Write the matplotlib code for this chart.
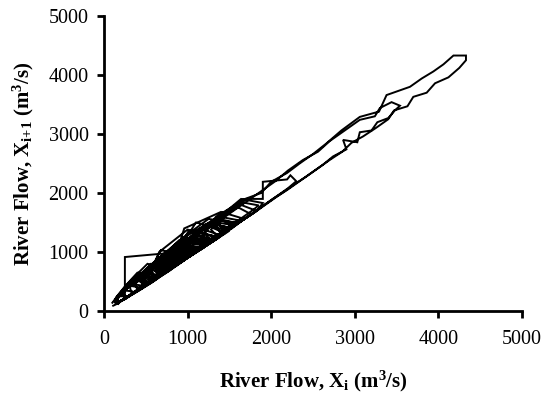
import numpy as np
import matplotlib
matplotlib.use("Agg")
import matplotlib.pyplot as plt

plt.rcParams['font.family'] = ['Liberation Serif', 'DejaVu Serif']
plt.rcParams['mathtext.fontset'] = 'custom'
plt.rcParams['mathtext.rm'] = 'Liberation Serif:bold'
plt.rcParams['mathtext.it'] = 'Liberation Serif:bold'
plt.rcParams['mathtext.bf'] = 'Liberation Serif:bold'

# River flow time series (m3/s), hydrological cycles in chronological order
cycle_1 = [100, 140, 210, 330, 480, 600, 560, 700, 900, 820, 760, 950, 1250, 1180, 1090, 1000,
           1150, 1400, 1280, 1160, 1050, 950, 870, 1080, 1300, 1190, 1080, 980, 890, 810, 740,
           670, 610, 550, 500, 450, 400, 350, 310, 270, 230, 200, 170]
cycle_2 = [150, 220, 340, 520, 480, 430, 560, 800, 740, 680, 640, 760, 1000, 930, 870, 1010, 1350,
           1260, 1170, 1090, 1020, 950, 890, 830, 900, 1100, 1040, 970, 900, 840, 780, 720, 660,
           600, 550, 500, 450, 400, 350, 310, 270, 230, 200, 170]
cycle_3 = [150, 200, 290, 420, 600, 820, 1060, 1000, 1200, 1450, 1650, 1880, 2000, 2190, 2340, 2500,
           2660, 2840, 3060, 3290, 3380, 3660, 3800, 3940, 4060, 4180, 4330, 4330, 4250, 4120, 3960,
           3860, 3700, 3630, 3470, 3400, 3250, 3100, 2960, 2850, 2700, 2560, 2420, 2280, 2150, 2020,
           1900, 1780, 1650, 1530, 1400, 1290, 1180, 1060, 960, 860, 760, 660, 570, 480, 400, 330,
           270, 220, 180, 150]
cycle_4 = [160, 230, 330, 470, 650, 610, 570, 690, 880, 1080, 1010, 950, 890, 1040, 1260, 1200, 1130,
           1060, 990, 930, 870, 940, 1120, 1360, 1230, 1110, 1000, 900, 810, 730, 660, 600, 540,
           480, 430, 380, 330, 290, 250, 210, 180]
cycle_5 = [150, 190, 260, 380, 560, 760, 700, 650, 760, 960, 900, 840, 790, 900, 1100, 1300, 1480,
           1420, 1350, 1280, 1380, 1560, 1500, 1430, 1360, 1290, 1220, 1150, 1080, 1020, 960, 900,
           850, 800, 750, 700, 650, 600, 550, 500, 450, 400, 350, 300, 260, 220, 190, 160]
cycle_6 = [150, 190, 250, 250, 915, 1000, 1060, 1120, 1200, 1150, 1080, 990, 900, 820, 740, 660,
           590, 520, 450, 390, 330, 280, 230, 190, 160]
cycle_7 = [140, 180, 240, 340, 470, 640, 600, 560, 520, 620, 780, 980, 920, 860, 810, 760, 860, 1040,
           1240, 1180, 1110, 1050, 990, 940, 1000, 1160, 1380, 1540, 1480, 1410, 1340, 1270, 1200,
           1340, 1600, 1820, 1700, 1580, 1470, 1370, 1270, 1180, 1090, 1000, 920, 840, 770, 700,
           640, 580, 520, 470, 420, 370, 330, 290, 250, 210, 180, 150]
cycle_8 = [140, 200, 290, 420, 600, 560, 520, 640, 820, 1050, 990, 930, 1080, 1320, 1450, 1600, 1750,
           1900, 2050, 2200, 2380, 2560, 2700, 2880, 3060, 3240, 3300, 3440, 3540, 3480, 3400, 3270,
           3200, 3060, 3030, 2860, 2900, 2740, 2620, 2480, 2340, 2200, 2060, 1930, 1800, 1670, 1550,
           1430, 1310, 1200, 1090, 980, 880, 780, 690, 600, 510, 430, 360, 300, 250, 200, 170]
cycle_9 = [150, 210, 300, 430, 400, 370, 460, 620, 820, 770, 720, 680, 790, 960, 1180, 1110, 1050,
           990, 930, 870, 820, 770, 820, 940, 1110, 1060, 1000, 940, 880, 830, 780, 730, 680, 630,
           580, 530, 480, 430, 380, 340, 300, 260, 220, 190, 160]
cycle_10 = [150, 200, 280, 400, 560, 740, 700, 660, 800, 1000, 1220, 1160, 1100, 1260, 1480, 1420,
            1360, 1530, 1700, 1900, 1900, 2190, 2230, 2300, 2200, 2080, 1960, 1840, 1720, 1600, 1480,
            1370, 1260, 1150, 1050, 950, 850, 760, 670, 590, 510, 440, 370, 310, 260, 210, 170]
cycle_11 = [140, 200, 300, 450, 640, 860, 820, 780, 740, 840, 1000, 950, 900, 850, 800, 760, 720, 680,
            640, 600, 560, 520, 480, 440, 400, 360, 320, 280, 240, 210, 180, 150]
cycle_12 = [130, 170, 240, 350, 330, 310, 400, 540, 500, 470, 560, 700, 660, 620, 580, 540, 500, 460,
            420, 380, 340, 300, 260, 230, 200, 170, 140]
cycle_13 = [140, 190, 270, 390, 550, 750, 980, 920, 870, 820, 940, 1140, 1380, 1600, 1540, 1470,
            1400, 1330, 1420, 1600, 1760, 1640, 1520, 1410, 1310, 1210, 1120, 1030, 950, 870, 800,
            730, 670, 610, 550, 500, 450, 400, 350, 300, 260, 220, 180, 150]
cycle_14 = [150, 220, 320, 460, 430, 400, 370, 450, 580, 740, 700, 660, 620, 700, 860, 1060, 1000,
            950, 900, 850, 900, 1020, 1200, 1150, 1090, 1030, 970, 910, 860, 810, 760, 710, 660, 610,
            560, 510, 460, 410, 360, 320, 280, 240, 200, 170]
cycle_15 = [120, 170, 250, 370, 540, 760, 1020, 960, 880, 800, 900, 1080, 1300, 1220, 1120, 1030, 950,
            880, 820, 900, 1060, 1240, 1160, 1070, 990, 920, 850, 790, 730, 670, 610, 550, 490, 430,
            380, 330, 290, 250, 210, 180, 150]
cycle_16 = [150, 210, 300, 420, 580, 520, 470, 430, 520, 680, 900, 1200, 1120, 1040, 960, 900, 960,
            1100, 1300, 1500, 1380, 1260, 1150, 1050, 960, 880, 800, 730, 660, 600, 540, 480, 430,
            380, 330, 290, 250, 210, 180, 150]
cycle_17 = [140, 190, 280, 410, 600, 560, 520, 480, 540, 660, 840, 780, 700, 640, 720, 880, 1100, 1020,
            940, 870, 810, 760, 710, 660, 610, 570, 530, 490, 450, 410, 370, 330, 290, 250, 220, 190,
            160]
cycle_18 = [160, 230, 340, 500, 700, 950, 1250, 1560, 1500, 1380, 1270, 1180, 1260, 1420, 1640, 1900,
            1830, 1700, 1580, 1480, 1390, 1300, 1210, 1130, 1050, 980, 910, 850, 790, 730, 670, 610,
            560, 510, 460, 410, 360, 320, 280, 240, 200, 170]
cycle_19 = [150, 200, 280, 250, 230, 300, 420, 590, 800, 740, 690, 650, 610, 680, 820, 1000, 1240,
            1170, 1080, 990, 910, 840, 780, 720, 670, 620, 570, 520, 470, 420, 370, 320, 280, 240,
            200, 170]
cycle_20 = [140, 180, 250, 350, 490, 680, 900, 1150, 1080, 1000, 920, 850, 930, 1060, 1230, 1450, 1320,
            1200, 1090, 990, 900, 820, 750, 680, 620, 560, 500, 450, 400, 350, 310, 270, 230, 190,
            160, 140]
cycle_21 = [130, 200, 320, 520, 800, 700, 620, 560, 660, 1000, 1380, 1250, 1130, 1020, 920, 1100, 1500,
            1360, 1230, 1110, 1000, 900, 810, 730, 660, 590, 530, 470, 420, 370, 320, 280, 240, 200,
            170]
cycle_22 = [150, 240, 400, 650, 600, 550, 680, 1030, 940, 860, 960, 1400, 1680, 1560, 1450, 1330,
            1220, 1120, 1020, 930, 850, 770, 700, 630, 570, 510, 450, 400, 350, 300, 260, 220, 180,
            150]
cycle_23 = [150, 200, 280, 400, 560, 760, 1000, 1280, 1520, 1460, 1400, 1340, 1440, 1620, 1850, 1790,
            1720, 1650, 1580, 1510, 1440, 1370, 1300, 1240, 1180, 1120, 1060, 1000, 940, 880, 820,
            760, 700, 640, 580, 530, 480, 430, 380, 330, 290, 250, 210, 180, 140, 110, 90]

flow = np.concatenate([cycle_1, cycle_2, cycle_3, cycle_4, cycle_5, cycle_6, cycle_7, cycle_8,
                       cycle_9, cycle_10, cycle_11, cycle_12, cycle_13, cycle_14, cycle_15,
                       cycle_16, cycle_17, cycle_18, cycle_19, cycle_20, cycle_21, cycle_22,
                       cycle_23])

x_ticks = [0, 1000, 2000, 3000, 4000, 5000]
y_ticks = [0, 1000, 2000, 3000, 4000, 5000]

fig = plt.figure(figsize=(5.43, 3.96), dpi=100)
ax = fig.add_axes([0.1915, 0.2146, 0.7698, 0.745])
ax.plot(flow[:-1], flow[1:], color='black', linewidth=1.4, solid_joinstyle='miter')

ax.set_xlim(0, 5000)
ax.set_ylim(0, 5000)
ax.set_xticks(x_ticks)
ax.set_yticks(y_ticks)
for s in ['top', 'right']:
    ax.spines[s].set_visible(False)
for s in ['left', 'bottom']:
    ax.spines[s].set_linewidth(2)
ax.tick_params(direction='out', length=5, width=2, labelsize=14.5)
ax.tick_params(axis='x', pad=9)
ax.tick_params(axis='y', pad=6)

ax.set_xlabel(r'River Flow, X$_{\rm i}$ (m$^{\rm 3}$/s)', fontsize=15, fontweight='bold', labelpad=14)
ax.set_ylabel(r'River Flow, X$_{\rm i{+}1}$ (m$^{\rm 3}$/s)', fontsize=15, fontweight='bold', labelpad=9)

fig.savefig('out.png', dpi=100)
